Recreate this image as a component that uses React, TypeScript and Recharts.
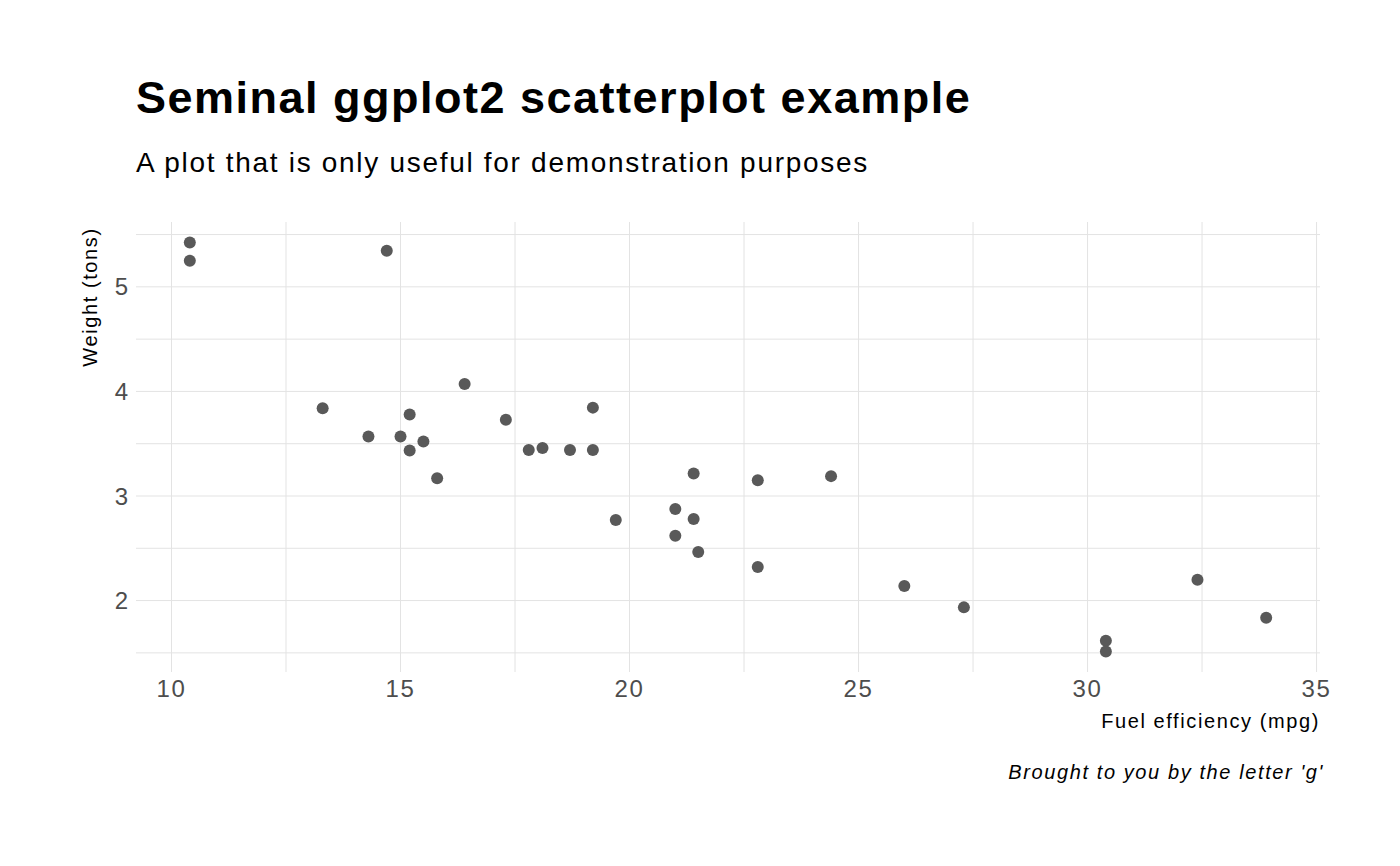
import React from "react";
import { ScatterChart, Scatter, XAxis, YAxis, CartesianGrid } from "recharts";

// mtcars: fuel efficiency (mpg) vs weight (1000 lbs)
const mpg = [21.0, 21.0, 22.8, 21.4, 18.7, 18.1, 14.3, 24.4, 22.8, 19.2, 17.8, 16.4, 17.3, 15.2, 10.4, 10.4, 14.7, 32.4, 30.4, 33.9, 21.5, 15.5, 15.2, 13.3, 19.2, 27.3, 26.0, 30.4, 15.8, 19.7, 15.0, 21.4];
const wt = [2.62, 2.875, 2.32, 3.215, 3.44, 3.46, 3.57, 3.19, 3.15, 3.44, 3.44, 4.07, 3.73, 3.78, 5.25, 5.424, 5.345, 2.2, 1.615, 1.835, 2.465, 3.52, 3.435, 3.84, 3.845, 1.935, 2.14, 1.513, 3.17, 2.77, 3.57, 2.78];
const xTicks = [10, 12.5, 15, 17.5, 20, 22.5, 25, 27.5, 30, 32.5, 35];
const yTicks = [1.5, 2, 2.5, 3, 3.5, 4, 4.5, 5, 5.5];

const points = mpg.map((m, i) => ({ mpg: m, wt: wt[i] }));
const font = "'Liberation Sans', Arial, sans-serif";
const ls = "1.6px";

const dot = (p: any) => <circle cx={p.cx} cy={p.cy} r={6} fill="#595959" />;

export default function App() {
  return (
    <div style={{ position: "absolute", left: 0, top: 0, width: 1400, height: 866, background: "#fff", fontFamily: font }}>
      <div style={{ position: "absolute", left: 136, top: 72, fontSize: 45, fontWeight: "bold", color: "#000", letterSpacing: "1.5px", whiteSpace: "nowrap" }}>
        Seminal ggplot2 scatterplot example
      </div>
      <div style={{ position: "absolute", left: 136, top: 147, fontSize: 28, color: "#000", letterSpacing: "1.7px", whiteSpace: "nowrap" }}>
        A plot that is only useful for demonstration purposes
      </div>
      <div style={{ position: "absolute", left: 90, top: 297, fontSize: 20, letterSpacing: ls, transform: "translate(-50%,-50%) rotate(-90deg)", whiteSpace: "nowrap" }}>
        Weight (tons)
      </div>
      <div style={{ position: "absolute", right: 80, top: 710, fontSize: 20, letterSpacing: ls, whiteSpace: "nowrap" }}>Fuel efficiency (mpg)</div>
      <div style={{ position: "absolute", right: 76, top: 761, fontSize: 20, fontStyle: "italic", letterSpacing: ls, whiteSpace: "nowrap" }}>
        Brought to you by the letter 'g'
      </div>
      <ScatterChart width={1400} height={866} margin={{ top: 222, right: 80, bottom: 154, left: 0 }} style={{ position: "absolute", left: 0, top: 0 }}>
        <CartesianGrid stroke="#e3e3e3" strokeWidth={1} horizontalValues={yTicks} verticalValues={xTicks} />
        <XAxis
          type="number"
          dataKey="mpg"
          domain={[9.225, 35.075]}
          ticks={xTicks}
          tickFormatter={(v: number) => (v % 5 === 0 ? String(v) : "")}
          axisLine={false}
          tickLine={false}
          height={40}
          tick={{ fill: "#4d4d4d", fontSize: 24, fontFamily: font, letterSpacing: ls }}
          interval={0}
          allowDataOverflow
        />
        <YAxis
          type="number"
          dataKey="wt"
          domain={[1.317, 5.62]}
          ticks={yTicks}
          tickFormatter={(v: number) => (v % 1 === 0 ? String(v) : "")}
          axisLine={false}
          tickLine={false}
          width={136}
          tick={{ fill: "#4d4d4d", fontSize: 24, fontFamily: font }}
          interval={0}
          allowDataOverflow
        />
        <Scatter data={points} shape={dot} isAnimationActive={false} />
      </ScatterChart>
    </div>
  );
}
